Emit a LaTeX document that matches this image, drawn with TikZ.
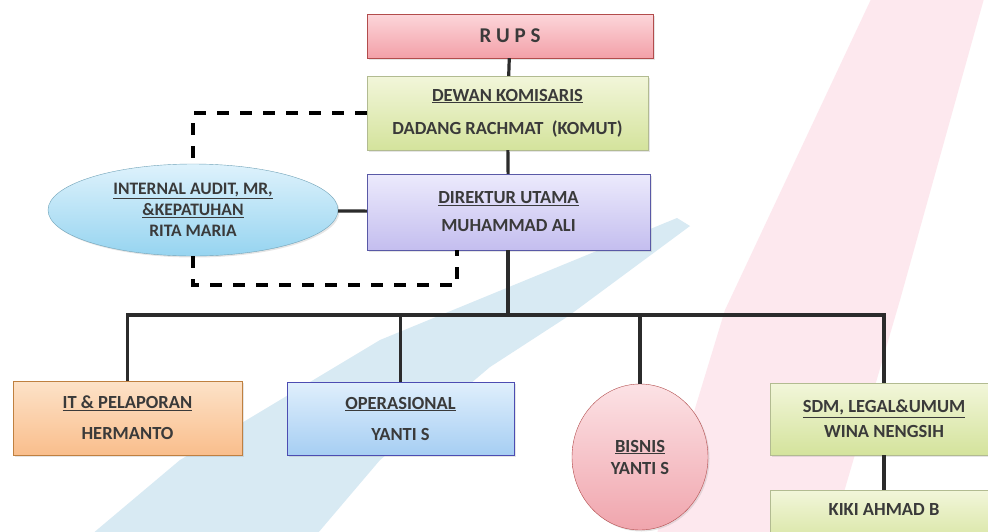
\documentclass[tikz,border=0pt]{standalone}
\usepackage{fontspec}
\setmainfont{Carlito}
\usetikzlibrary{shapes.geometric,shadows}
\definecolor{ink}{HTML}{3A3A3A}
\definecolor{wire}{HTML}{2B2B2B}
\definecolor{wblue}{HTML}{D8EAF3}
\definecolor{wpink}{HTML}{FDE8EE}
\definecolor{greentop}{HTML}{F2F6DA}
\definecolor{greenbot}{HTML}{D4E39C}
\tikzset{
  unit/.style={draw=gray!70, align=center, text=ink, inner sep=0pt,
    font=\bfseries\fontsize{18.5}{22}\selectfont,
    drop shadow={opacity=0.2,shadow xshift=1.5pt,shadow yshift=-1.5pt}},
  greenbox/.style={unit, rectangle, top color=greentop, bottom color=greenbot, draw=greenbot!60!gray},
  wire/.style={draw=wire, line width=3.2pt},
  dashline/.style={draw=black, line width=4pt, dash pattern=on 12pt off 11pt}
}
\begin{document}
\begin{tikzpicture}[x=1pt,y=-1pt]
\useasboundingbox (0,0) rectangle (988,531);
\clip (0,0) rectangle (988,531);
\fill[white] (0,0) rectangle (988,531);
\fill[wpink] (873,-5)--(985,-5)--(900,300)--(830,540)--(655,540)--(725,310)--cycle;
\fill[wblue] (85,540)--(180,460)--(380,340)--(677,218)--(690,226)--(567,317)--(490,367)--(380,460)--(312,540)--cycle;

\node[unit, rectangle, minimum width=286pt, minimum height=44pt, top color={rgb,255:red,252;green,214;blue,218}, bottom color={rgb,255:red,243;green,160;blue,168}, draw=red!40!gray,
  font=\bfseries\fontsize{21}{24}\selectfont] (rups) at (510,36) {R~U~P~S};
\node[greenbox, minimum width=281pt, minimum height=74pt] (dewan) at (507.5,113)
  {\underline{DEWAN KOMISARIS}\\[11pt]DADANG RACHMAT~~(KOMUT)};
\node[unit, rectangle, minimum width=283pt, minimum height=76pt, top color={rgb,255:red,236;green,234;blue,252}, bottom color={rgb,255:red,196;green,190;blue,239}, draw=blue!30!gray] (direktur) at (508.5,212)
  {\underline{DIREKTUR UTAMA}\\[6pt]MUHAMMAD ALI};
\node[unit, ellipse, minimum width=290pt, minimum height=92pt, top color={rgb,255:red,222;green,242;blue,252}, bottom color={rgb,255:red,150;green,212;blue,240}, draw=cyan!40!gray,
  font=\bfseries\fontsize{17.5}{21}\selectfont] (audit) at (193,210)
  {\underline{INTERNAL AUDIT, MR,}\\\underline{\&KEPATUHAN}\\RITA MARIA};
\node[unit, rectangle, minimum width=229pt, minimum height=74pt, top color={rgb,255:red,253;green,226;blue,200}, bottom color={rgb,255:red,249;green,190;blue,140}, draw=orange!50!gray] (it) at (127.5,418)
  {\underline{IT \& PELAPORAN}\\[9pt]HERMANTO};
\node[unit, rectangle, minimum width=227pt, minimum height=73pt, top color={rgb,255:red,224;green,239;blue,252}, bottom color={rgb,255:red,166;green,206;blue,243}, draw=blue!40!gray] (ops) at (400.5,418.5)
  {\underline{OPERASIONAL}\\[9pt]YANTI S};
\node[unit, ellipse, minimum width=136pt, minimum height=146pt, top color={rgb,255:red,252;green,226;blue,229}, bottom color={rgb,255:red,240;green,165;blue,173}, draw=red!40!gray] (bisnis) at (640,457)
  {\underline{BISNIS}\\YANTI S};
\node[greenbox, minimum width=228pt, minimum height=72pt] (sdm) at (884,419)
  {\underline{SDM, LEGAL\&UMUM}\\[3pt]WINA NENGSIH};
\node[greenbox, minimum width=228pt, minimum height=60pt, text depth=22pt] (kiki) at (884,520) {KIKI AHMAD B};

\coordinate (bus) at (508,315);
\coordinate (dlow) at (457,285);

\draw[wire] (rups) -- (dewan);
\draw[wire] (dewan) -- (direktur);
\draw[wire] (audit) -- (direktur);
\draw[wire] (direktur.south -| bus) -- (bus);
\draw[wire] (it.north) |- (bus) -| (sdm.north);
\draw[wire] (ops.north) -- (ops.north |- bus);
\draw[wire] (bisnis.north) -- (bisnis.north |- bus);
\draw[wire] (sdm) -- (kiki);
\draw[dashline] (dewan.west) -| (audit.north);
\draw[dashline] (audit.south) -- (audit.south |- dlow) -- (dlow) -- (dlow |- direktur.south);
\end{tikzpicture}
\end{document}
